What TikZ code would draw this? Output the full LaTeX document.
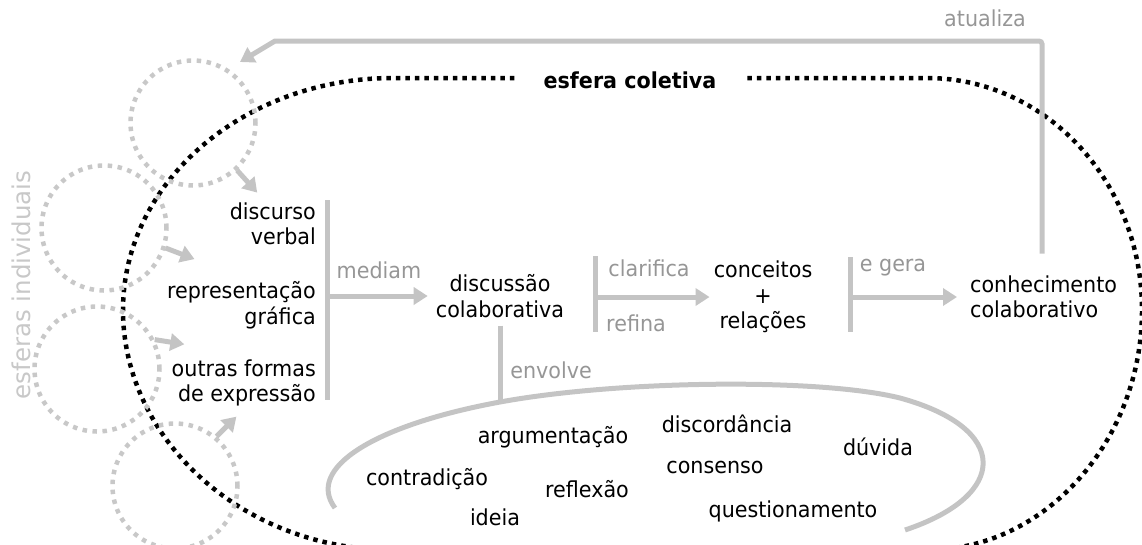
\documentclass[tikz,border=0pt]{standalone}
\usepackage{fontspec}
\setmainfont{DejaVu Sans}[FakeStretch=0.94]
\newfontfamily\sidefont{DejaVu Sans}
\usetikzlibrary{arrows.meta}
\definecolor{linegray}{RGB}{196,196,196}
\definecolor{labelgray}{RGB}{150,150,150}
\definecolor{spheregray}{RGB}{200,200,200}
\begin{document}
\begin{tikzpicture}[x=1pt,y=-1pt,font=\fontsize{22}{25.5}\selectfont]
\tikzstyle{txt}=[inner sep=0pt,align=center]
\tikzstyle{lbl}=[inner sep=0pt,text=labelgray]
\tikzstyle{word}=[inner sep=0pt,anchor=base]
\tikzstyle{bar}=[draw=linegray,line width=5pt]
\tikzstyle{flow}=[draw=linegray,line width=5pt,-{Triangle[length=14pt,width=17pt]}]
\tikzstyle{sphere}=[circle,draw=spheregray,line width=4.5pt,dash pattern=on 4.5pt off 5.5pt,minimum size=125pt,inner sep=0pt]
\useasboundingbox (0,0) rectangle (1142,544);
% esfera coletiva
\draw[line width=4.5pt,dash pattern=on 4.5pt off 5pt] (927,550) .. controls (1045.7,550) and (1142,440.3) .. (1142,310) .. controls (1142,181.9) and (1045.7,78) .. (927,78) -- (393,78) .. controls (243.9,78) and (123,181.9) .. (123,310) .. controls (123,440.3) and (243.9,550) .. (393,550);
\node (coletiva) [fill=white,inner xsep=28pt,inner ysep=4pt,font=\fontsize{22}{26}\selectfont\bfseries] at (630,80) {esfera coletiva};
% esferas individuais
\node (s1) [sphere] at (193,123) {};
\node (s2) [sphere] at (104,228) {};
\node (s3) [sphere] at (97,369) {};
\node (s4) [sphere] at (175,486) {};
\node (indiv) [lbl,text=spheregray,rotate=90,anchor=base,font=\sidefont\fontsize{24.5}{28}\selectfont] at (30,285) {esferas individuais};
\draw[flow] (s1.-47) -- ++(48:30);
\draw[flow] (s2.-18) -- ++(21:31);
\draw[flow] (s3.27) -- ++(9:30);
\draw[flow] (s4.50) -- ++(-45:28);
% formas de expressao
\node (verbal) [txt,align=right,anchor=east] at (316,224) {discurso\\verbal};
\node (grafica) [txt,align=right,anchor=east] at (316,305) {representação\\gráfica};
\node (outras) [txt,align=right,anchor=east] at (316,383) {outras formas\\de expressão};
\coordinate (mtop) at (327,200);
\coordinate (mbot) at (327,400);
\draw[bar] (mtop) -- (mbot);
\node (disc) [txt] at (500,296) {discussão\\colaborativa};
\draw[flow,shorten >=8pt] (mtop |- disc.west) -- (disc.west);
\node (mediam) [lbl] at (379,270) {mediam};
% conceitos
\node (conc) [txt] at (763,297) {conceitos\\+\\relações};
\coordinate (ctop) at (595,256);
\coordinate (cbot) at (595,332);
\draw[bar] (ctop) -- (cbot);
\draw[flow,shorten >=4pt] (ctop |- conc.west) -- (conc.west);
\node (clarifica) [lbl] at (649,268) {clarifica};
\node (refina) [lbl] at (636,323) {refina};
% conhecimento
\node (know) [txt,align=left,anchor=west] at (970,297) {conhecimento\\colaborativo};
\coordinate (gtop) at (850,257);
\coordinate (gbot) at (850,332);
\draw[bar] (gtop) -- (gbot);
\draw[flow,shorten >=13pt] (gtop |- know.west) -- (know.west);
\node (egera) [lbl] at (893,268) {e gera};
% atualiza
\coordinate (fbtop) at (1042,41);
\coordinate (fbleft) at (275,41);
\coordinate (fbtip) at (240,62);
\draw[flow] (know.north -| fbtop) ++(0,-22) [rounded corners=3pt] -- (fbtop) [sharp corners] -- (fbleft) -- (fbtip);
\node (atualiza) [lbl] at (985,18) {atualiza};
% envolve
\coordinate (env) at (500,402);
\draw[bar] (env |- disc.south) ++(0,8) -- (env);
\node (envolve) [lbl] at (551,370) {envolve};
\draw[draw=linegray,line width=5pt] (335,508) .. controls (305,468) and (375,425) .. (env) .. controls (620,380) and (820,378) .. (900,398) .. controls (1010,428) and (1010,495) .. (905,530);
\node (arg) [word] at (553,443) {argumentação};
\node (discord) [word] at (727,432) {discordância};
\node (duvida) [word] at (878,455) {dúvida};
\node (consenso) [word] at (715,473) {consenso};
\node (contra) [word] at (427,485) {contradição};
\node (reflexao) [word] at (587,497) {reflexão};
\node (ideia) [word] at (495,525) {ideia};
\node (quest) [word] at (793,517) {questionamento};
\end{tikzpicture}
\end{document}
